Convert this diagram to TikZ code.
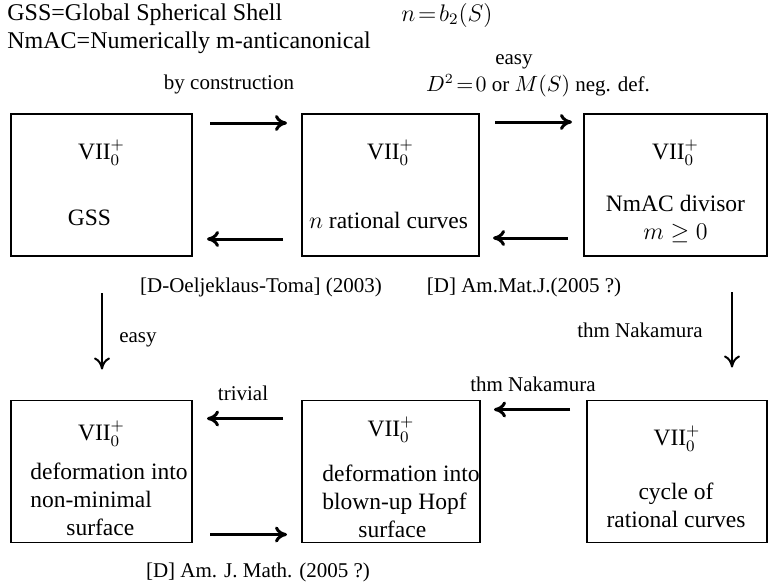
\documentclass[tikz,border=0pt]{standalone}
\usepackage{amsmath}
\usepackage{fontspec}
\setmainfont{Liberation Serif}
\usetikzlibrary{calc,arrows.meta}

\begin{document}
\begin{tikzpicture}[
  x=0.5pt, y=-0.5pt,
  >={To[length=6pt,width=8pt]},
  pointer/.style={->, line width=1.5pt},
  downptr/.style={->, line width=1pt},
  classbox/.style={draw, line width=0.7pt, minimum height=71pt, inner sep=0pt, outer sep=0pt},
  boxtext/.style={font=\rmfamily\fontsize{11.75}{14}\selectfont, inner sep=0pt},
  reftext/.style={font=\rmfamily\fontsize{10.5}{12.6}\selectfont, inner sep=0pt},
  header/.style={font=\rmfamily\fontsize{12}{14}\selectfont, inner sep=0pt}
]
\useasboundingbox (0,0) rectangle (770,586);

% --- Box helper: name, (x,y), width, title offset ---
\newcommand{\ClassBox}[5]{%
  % Outer box
  \node[classbox, minimum width=#4] (#1) at (#2,#3) {};

  % Title text
  \node[boxtext] (#1-title) at ($(#1.north)+(0,#5)$) {VII$_0^+$};
}

% --- Abbreviations ---
\node[header, anchor=west] (gssdef) at (7,15) {GSS=Global Spherical Shell};
\node[header, anchor=west] (nmacdef) at (7,43) {NmAC=Numerically m-anticanonical};
\node[header] (bdef) at (447,15) {$n\!=\!b_2(S)$};

% --- Draw boxes ---
\ClassBox{gss}{101.5}{185}{90.5pt}{39}
\ClassBox{rat}{390.5}{185}{88.5pt}{39}
\ClassBox{nmac}{675.5}{185}{91.5pt}{39}
\ClassBox{nonmin}{101.5}{471.5}{90.5pt}{33}
\ClassBox{hopf}{391}{471.5}{89pt}{29}
\ClassBox{cyc}{677}{471.5}{90pt}{38}

% --- Box contents ---
\node[boxtext] (gss-body) at ($(gss.north)+(-12,104)$) {GSS};
\node[boxtext] (rat-body) at ($(rat.north)+(-2,106)$) {$n$ rational curves};
\node[boxtext, align=center] (nmac-body) at ($(nmac.north)+(0,105)$) {NmAC divisor\\$m\geq 0$};
\node[boxtext, align=left] (nonmin-body) at ($(nonmin.north)+(7.5,99)$) {deformation into\\non-minimal\\\hspace*{18pt}surface};
\node[boxtext, align=left] (hopf-body) at ($(hopf.north)+(10,101)$) {deformation into\\blown-up Hopf\\\hspace*{18pt}surface};
\node[boxtext, align=center] (cyc-body) at ($(cyc.north)+(-1,105)$) {cycle of\\rational curves};

% --- Arrows (top row) ---
\draw[pointer] ($(gss.north east)+(18,9)$) -- ($(rat.north west)+(-15,9)$);
\draw[pointer] ($(rat.south west)+(-19,-17)$) -- ($(gss.south east)+(15,-17)$);
\draw[pointer] ($(rat.north east)+(16,8)$) -- ($(nmac.north west)+(-12,8)$);
\draw[pointer] ($(nmac.south west)+(-16,-18)$) -- ($(rat.south east)+(14,-18)$);

% --- Arrows (bottom row) ---
\draw[pointer] ($(hopf.north west)+(-19,18)$) -- ($(nonmin.north east)+(15,18)$);
\draw[pointer] ($(cyc.north west)+(-17,9)$) -- ($(hopf.north east)+(14,9)$);
\draw[pointer] ($(nonmin.south east)+(18,-8)$) -- ($(hopf.south west)+(-15,-8)$);

% --- Arrows (between rows) ---
\draw[downptr] ($(gss.south)+(0.5,37)$) -- ($(nonmin.north)+(0.5,-31)$);
\draw[downptr] ($(nmac.south)+(56.5,36)$) -- ($(cyc.north)+(55,-33)$);

% --- Arrow labels and references ---
\node[reftext] (bycon) at (229,84) {by construction};
\node[reftext] (easytop) at (514,62) {easy};
\node[reftext] (negdef) at (538,86) {$D^2\!=\!0$ or $M(S)$ neg. def.};
\node[reftext] (refdot) at (261,287) {[D-Oeljeklaus-Toma] (2003)};
\node[reftext] (refamj) at (524,287) {[D] Am.Mat.J.(2005 ?)};
\node[reftext] (easyleft) at (138,340) {easy};
\node[reftext] (nakright) at (640,330) {thm Nakamura};
\node[reftext] (trivial) at (243,393) {trivial};
\node[reftext] (nakbottom) at (533,384) {thm Nakamura};
\node[reftext] (refmath) at (258,572) {[D] Am. J. Math. (2005 ?)};

\end{tikzpicture}
\end{document}
